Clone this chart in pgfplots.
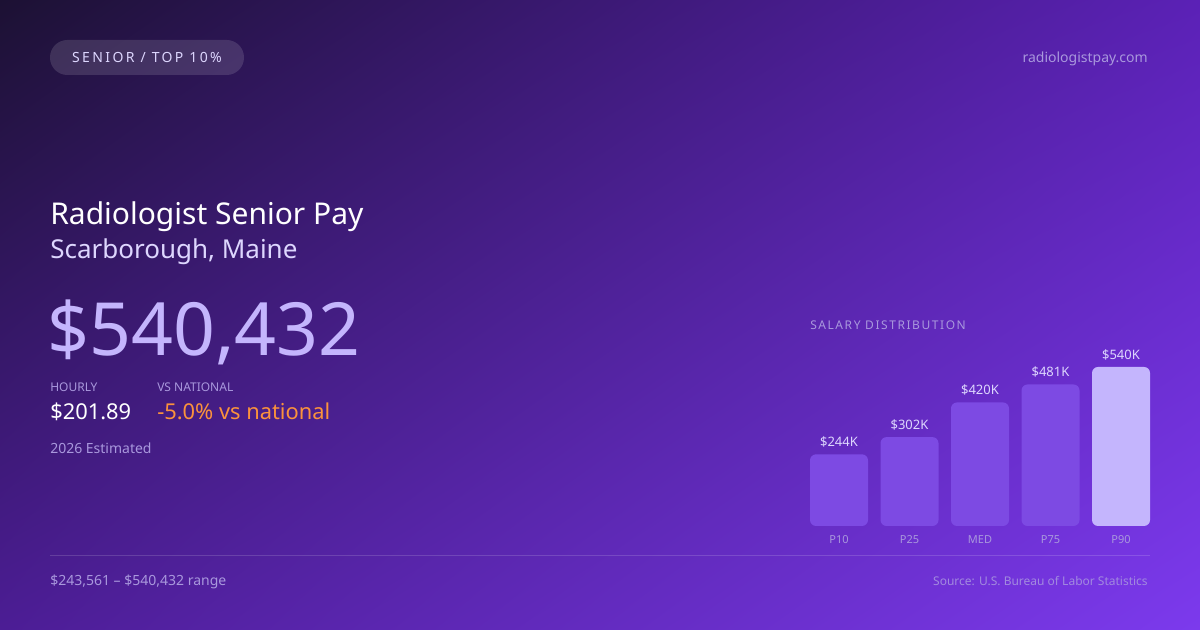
\documentclass[border=0pt]{standalone}
\usepackage{pgfplots}
\pgfplotsset{compat=1.18}
\usetikzlibrary{shadings}
\usepackage{fontspec}
\setmainfont{Noto Sans}
\definecolor{bgTL}{HTML}{1C1133}
\definecolor{bgTR}{HTML}{5B21B6}
\definecolor{bgBL}{HTML}{4C1D95}
\definecolor{bgBR}{HTML}{7C3AED}
\definecolor{lav}{HTML}{C4B5FD}
\definecolor{lavlight}{HTML}{DDD6FE}
\definecolor{muted}{HTML}{A998DD}
\definecolor{barc}{HTML}{7D4AE3}
\definecolor{orangec}{HTML}{FB923C}
\newcommand{\fs}[1]{\fontsize{#1}{#1}\selectfont}
\begin{document}
\begin{tikzpicture}
\begin{scope}[x=0.75pt,y=-0.75pt,yshift=472.5pt]
\shade[upper left=bgTL, upper right=bgTR, lower left=bgBL, lower right=bgBR] (0,0) rectangle (1200,630);
% badge
\fill[white, opacity=0.13, rounded corners=13pt] (50,40) rectangle (244,75);
\node[anchor=center, text=lavlight, inner sep=0] at (147,58) {\fs{10.5pt}\addfontfeatures{LetterSpace=17}SENIOR / TOP 10\%};
\node[anchor=base east, text=muted, inner sep=0] at (1148,63) {\fs{10.5pt}radiologistpay.com};
% titles
\node[anchor=base west, text=white, inner sep=0] at (50,225) {\fs{22.5pt}Radiologist Senior Pay};
\node[anchor=base west, text=lavlight, inner sep=0] at (50,259) {\fs{19.5pt}Scarborough, Maine};
\node[anchor=base west, text=lav, inner sep=0] at (47,356) {\fs{55pt}\$540,432};
\node[anchor=base west, text=muted, inner sep=0] at (50,392) {\fs{9pt}HOURLY};
\node[anchor=base west, text=muted, inner sep=0] at (157,392) {\fs{9pt}VS NATIONAL};
\node[anchor=base west, text=white, inner sep=0] at (50,420) {\fs{16.4pt}\$201.89};
\node[anchor=base west, text=orangec, inner sep=0] at (157,420) {\fs{16.4pt}-5.0\% vs national};
\node[anchor=base west, text=muted, inner sep=0] at (50,454) {\fs{10.5pt}2026 Estimated};
\node[anchor=base west, text=muted, inner sep=0] at (810,330) {\fs{9pt}\addfontfeatures{LetterSpace=13}SALARY DISTRIBUTION};
% bottom
\draw[white, opacity=0.15, line width=0.75pt] (50,556) -- (1150,556);
\node[anchor=base west, text=muted, inner sep=0] at (50,586) {\fs{10.5pt}\$243,561 – \$540,432 range};
\node[anchor=base east, text=muted!85!bgBR, inner sep=0] at (1148,586) {\fs{9pt}Source: U.S. Bureau of Labor Statistics};
\end{scope}
% chart
\begin{axis}[
  at={(607.5pt,78pt)}, anchor=south west,
  scale only axis, width=255pt, height=119.25pt,
  xmin=-0.4113, xmax=4.4113, ymin=0, ymax=540.432,
  axis line style={draw=none}, tick style={draw=none},
  major tick length=0pt,
  ytick=\empty, xtick={0,1,2,3,4},
  xticklabels={P10,P25,MED,P75,P90},
  xticklabel style={text=muted, font=\fs{8.25pt}, inner sep=0, anchor=base, yshift=-13pt},
  ybar, bar width=43.5pt, bar shift=0pt,
  clip=false,
  /pgf/number format/assume math mode=true,
  nodes near coords={\$\pgfmathprintnumber[fixed,precision=0,assume math mode=true]{\pgfplotspointmeta}K},
  every node near coord/.append style={text=lavlight, font=\fs{9.75pt}, inner sep=0, anchor=south, yshift=5pt},
]
\addplot[fill=barc, draw=none, rounded corners=4.5pt] coordinates {(0,243.561) (1,302) (2,420) (3,481)};
\addplot[fill=lav, draw=none, rounded corners=4.5pt] coordinates {(4,540.432)};
\end{axis}
\pgfresetboundingbox
\useasboundingbox (0,0) rectangle (900pt,472.5pt);
\end{tikzpicture}
\end{document}
